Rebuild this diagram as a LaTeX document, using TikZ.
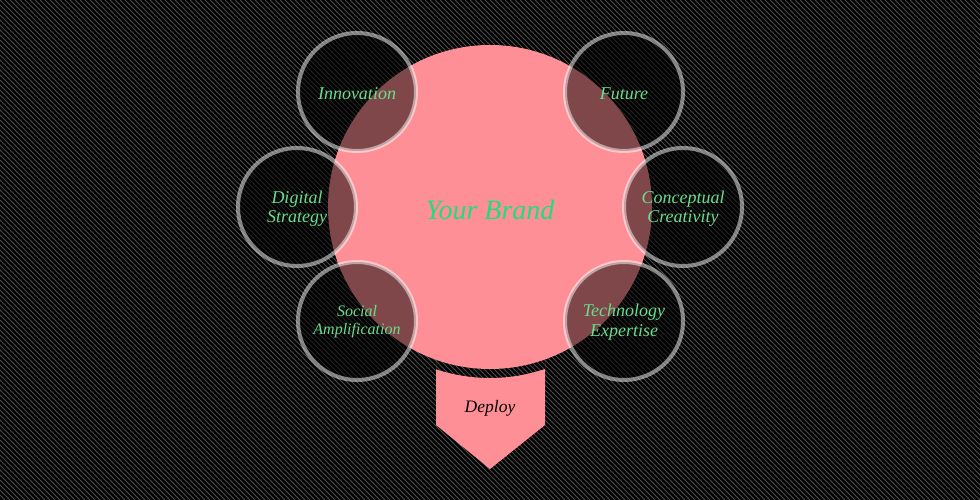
\documentclass[tikz,border=0pt]{standalone}
\usepackage{fontspec}
\setmainfont{Liberation Serif}
\definecolor{brandpink}{RGB}{255,143,150}
\definecolor{petalgreen}{RGB}{105,222,140}
\definecolor{brandgreen}{RGB}{30,220,130}
\definecolor{hatchgray}{RGB}{78,78,78}
\tikzset{
  hatch/.style={draw=hatchgray, line width=0.8pt},
  core/.style={circle, fill=brandpink, minimum size=324pt, inner sep=0pt},
  coretext/.style={text=brandgreen, font=\fontsize{28}{30}\selectfont\itshape},
  petal/.style={circle, minimum size=118pt, inner sep=0pt, line width=4pt,
    draw=white, draw opacity=0.5, fill=black, fill opacity=0.5},
  petaltext/.style={text=petalgreen, align=center, inner sep=0pt,
    font=\fontsize{18}{19.5}\selectfont\itshape},
  smalltext/.style={petaltext, font=\fontsize{16}{17.5}\selectfont\itshape},
  deploytext/.style={text=black, font=\fontsize{17.5}{19}\selectfont\itshape},
}
\begin{document}
\begin{tikzpicture}[x=1pt, y=1pt]
  % dark hatched backdrop
  \fill[black] (0,0) rectangle (980,-500);
  \useasboundingbox (0,0) rectangle (980,-500);
  \begin{scope}
    \clip (0,0) rectangle (980,-500);
    \foreach \i in {-520,-515,...,985}
      \draw[hatch] (\i,0) -- (\i+500,-500);
  \end{scope}

  % central brand disc
  \node[core] (brand) at (490,-207) {};
  \node[coretext] (brandtext) at ([yshift=-3pt]brand.center) {Your Brand};

  % surrounding petals
  \node[petal] (innov) at (357,-92) {};
  \node[petal] (future) at (624,-92) {};
  \node[petal] (digital) at (297,-207) {};
  \node[petal] (concept) at (683,-207) {};
  \node[petal] (social) at (357,-321) {};
  \node[petal] (tech) at (624,-321) {};

  \node[petaltext] (innovtext) at ([yshift=-1.5pt]innov.center) {Innovation};
  \node[petaltext] (futuretext) at ([yshift=-1.5pt]future.center) {Future};
  \node[petaltext] (digitaltext) at ([yshift=-1.5pt]digital.center) {Digital\\Strategy};
  \node[petaltext] (concepttext) at ([yshift=-1.5pt]concept.center) {Conceptual\\Creativity};
  \node[smalltext] (socialtext) at ([yshift=-0.5pt]social.center) {Social\\Amplification};
  \node[petaltext] (techtext) at ([yshift=-1pt]tech.center) {Technology\\Expertise};

  % deploy chevron, its top hollowed to follow the disc
  \begin{scope}
    \clip (436,-360) -- (545,-360) -- (545,-425) -- (490,-469) -- (436,-425) -- cycle;
    \fill[brandpink, even odd rule]
      (436,-360) -- (545,-360) -- (545,-425) -- (490,-469) -- (436,-425) -- cycle
      (brand.center) circle[radius=171];
  \end{scope}
  \node[deploytext] (deploy) at (490,-408) {Deploy};
\end{tikzpicture}
\end{document}
